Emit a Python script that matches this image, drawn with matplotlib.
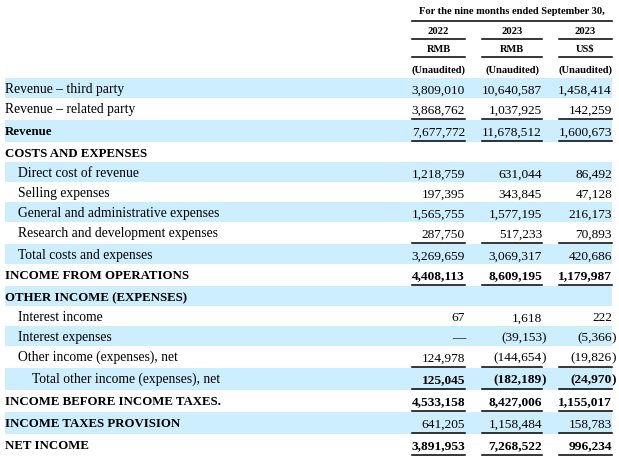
import matplotlib.pyplot as plt

# table content
title = "For the nine months ended September 30,"
years = ["2022", "2023", "2023"]
currencies = ["RMB", "RMB", "US$"]
audit = ["(Unaudited)", "(Unaudited)", "(Unaudited)"]

labels = [
    "Revenue \u2013 third party",
    "Revenue \u2013 related party",
    "Revenue",
    "COSTS AND EXPENSES",
    "Direct cost of revenue",
    "Selling expenses",
    "General and administrative expenses",
    "Research and development expenses",
    "Total costs and expenses",
    "INCOME FROM OPERATIONS",
    "OTHER INCOME (EXPENSES)",
    "Interest income",
    "Interest expenses",
    "Other income (expenses), net",
    "Total other income (expenses), net",
    "INCOME BEFORE INCOME TAXES.",
    "INCOME TAXES PROVISION",
    "NET INCOME",
]
rmb_2022 = [3809010, 3868762, 7677772, None, 1218759, 197395, 1565755, 287750,
            3269659, 4408113, None, 67, 0, 124978, 125045, 4533158, 641205, 3891953]
rmb_2023 = [10640587, 1037925, 11678512, None, 631044, 343845, 1577195, 517233,
            3069317, 8609195, None, 1618, -39153, -144654, -182189, 8427006, 1158484, 7268522]
usd_2023 = [1458414, 142259, 1600673, None, 86492, 47128, 216173, 70893,
            420686, 1179987, None, 222, -5366, -19826, -24970, 1155017, 158783, 996234]

# row styles
indent = [0, 0, 0, 0, 1, 1, 1, 1, 1, 0, 0, 1, 1, 1, 2, 0, 0, 0]
bold_label = [0, 0, 1, 1, 0, 0, 0, 0, 0, 1, 1, 0, 0, 0, 0, 1, 1, 1]
bold_value = [0, 0, 0, 0, 0, 0, 0, 0, 0, 1, 0, 0, 0, 0, 1, 1, 0, 1]
rule_below = [0, 1, 1, 0, 0, 0, 0, 1, 0, 1, 0, 0, 0, 1, 1, 1, 1, 1]

BLUE = "#cceeff"
FONT = "Liberation Serif"
FS = 9.6        # numbers
LFS = 9.85      # regular labels
BLFS = 9.3      # bold labels
HFS = 7.6
col_left = [412, 482, 559]
col_right = [465, 542, 612]

fig = plt.figure(figsize=(6.19, 4.59), dpi=100)
ax = fig.add_axes([0, 0, 1, 1])
ax.set_xlim(0, 619)
ax.set_ylim(459, 0)
ax.axis("off")

# header
ax.text(512, 14, title, ha="center", va="baseline", fontsize=HFS,
        fontweight="bold", family=FONT)
ax.plot([412, 612], [20.7, 20.7], color="black", lw=1.1)
for i in range(3):
    cx = (col_left[i] + col_right[i]) / 2
    ax.text(cx, 33.5, years[i], ha="center", va="baseline", fontsize=HFS,
            fontweight="bold", family=FONT)
    ax.plot([col_left[i], col_right[i]], [39, 39], color="black", lw=1.1)
    ax.text(cx, 52, currencies[i], ha="center", va="baseline", fontsize=HFS,
            fontweight="bold", family=FONT)
    ax.plot([col_left[i], col_right[i]], [57, 57], color="black", lw=1.1)
    ax.text(cx, 72.5, audit[i], ha="center", va="baseline", fontsize=HFS,
            fontweight="bold", family=FONT)


def fmt(v):
    if v == 0:
        return "\u2014", ""
    if v < 0:
        return "({:,}".format(-v), ")"
    return "{:,}".format(v), ""


top = 78
columns = [rmb_2022, rmb_2023, usd_2023]
for r, lab in enumerate(labels):
    h = 20 + 2 * rule_below[r]
    if r % 2 == 0:
        ax.add_patch(plt.Rectangle((5, top), 607, h, color=BLUE, lw=0))
    base = top + 15.3
    ax.text(5 + 13.5 * indent[r], base, lab, ha="left", va="baseline",
            fontsize=BLFS if bold_label[r] else LFS, family=FONT,
            fontweight="bold" if bold_label[r] else "normal")
    for c, vals in enumerate(columns):
        v = vals[r]
        if v is None:
            continue
        s, tail = fmt(v)
        w = "bold" if bold_value[r] else "normal"
        ax.text(col_right[c], base, s, ha="right", va="baseline",
                fontsize=FS, family=FONT, fontweight=w)
        if tail:
            ax.text(col_right[c], base, tail, ha="left", va="baseline",
                    fontsize=FS, family=FONT, fontweight=w)
    if rule_below[r]:
        y = top + h - 1
        for c in range(3):
            ax.plot([col_left[c], col_right[c]], [y, y], color="black", lw=1.1)
    top += h

fig.savefig("out.png", dpi=100)
